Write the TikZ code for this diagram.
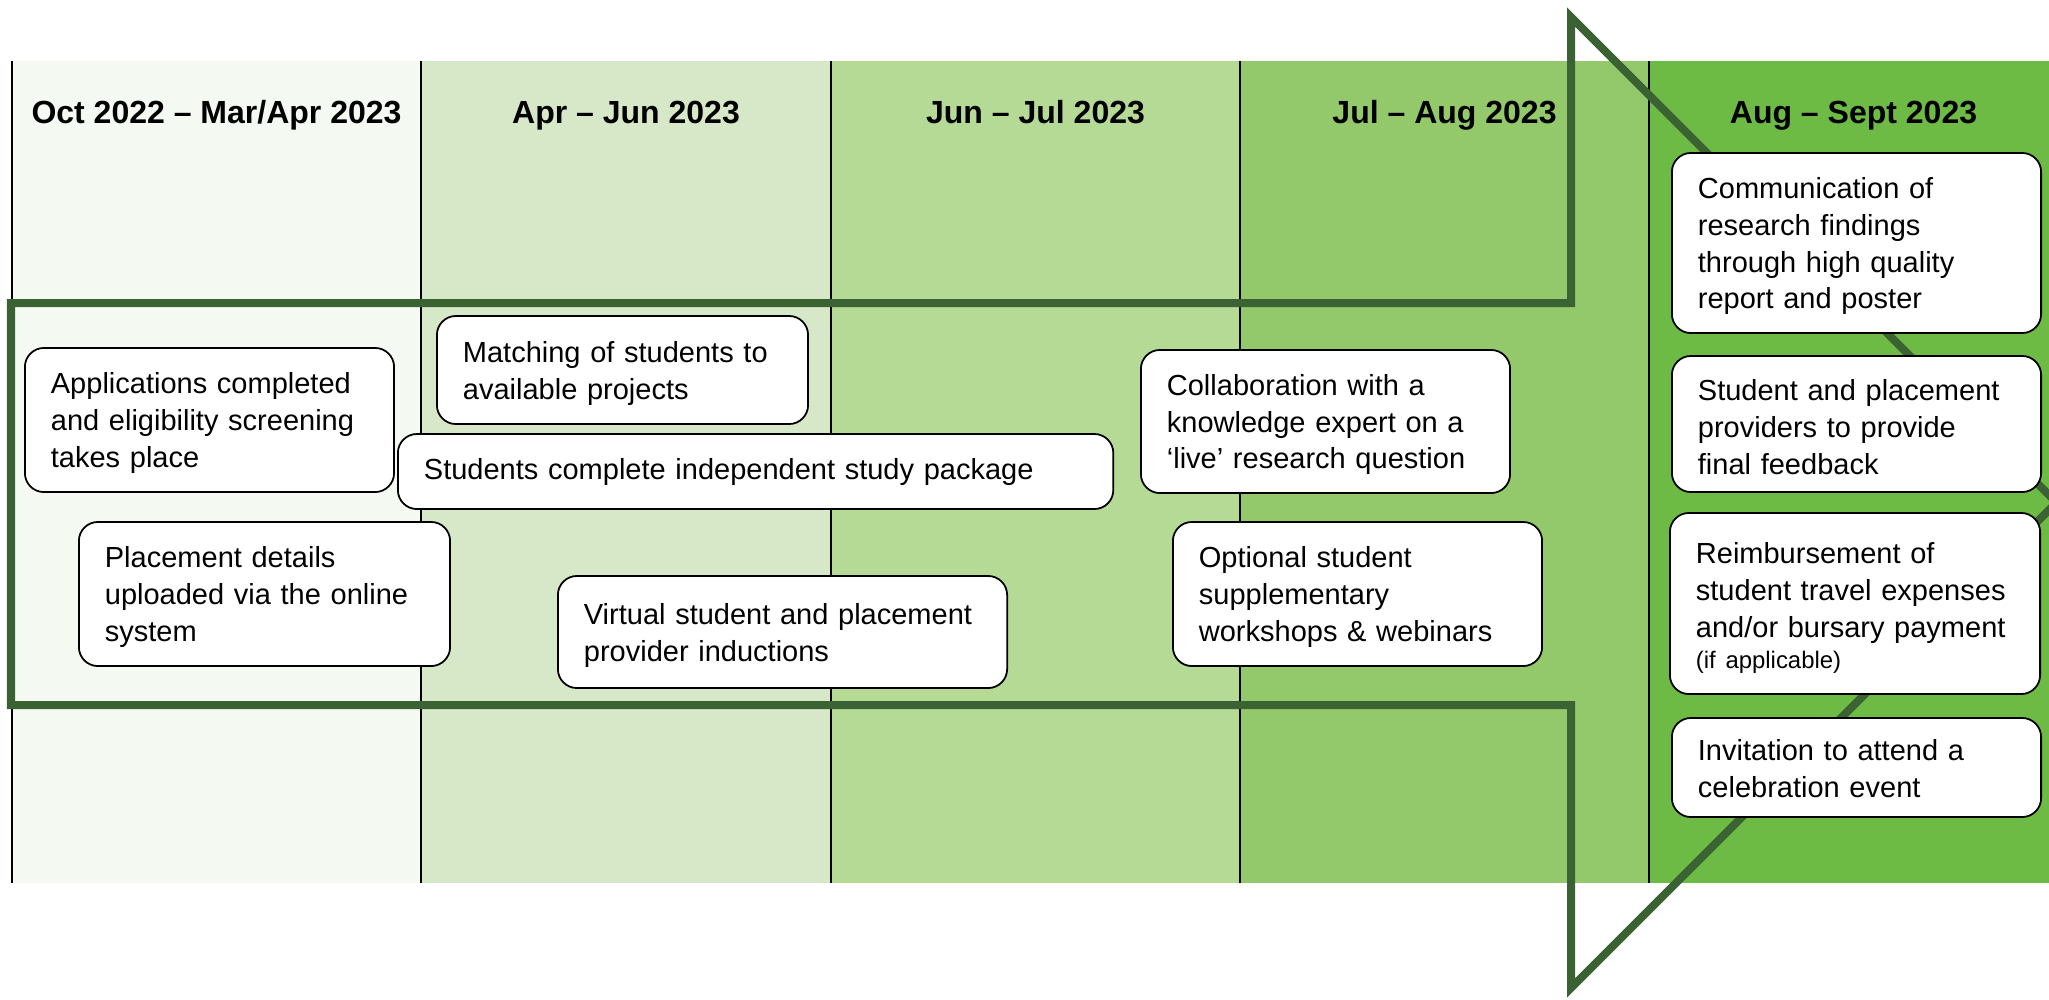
\documentclass[tikz,border=0pt]{standalone}
\usepackage{fontspec}
\setmainfont{Liberation Sans}
\usepackage{tikz}

\definecolor{phaseA}{HTML}{F4F9F1}
\definecolor{phaseB}{HTML}{D7E8C8}
\definecolor{phaseC}{HTML}{B4DA96}
\definecolor{phaseD}{HTML}{93C96A}
\definecolor{phaseE}{HTML}{6DBA45}
\definecolor{arrowgreen}{RGB}{58,98,50}
\newcommand{\cardfont}{\fontsize{8.25}{10.5}\selectfont}
\newcommand{\headfont}{\fontsize{9.1}{11}\selectfont\bfseries}

\begin{document}
\begin{tikzpicture}[x=0.01cm,y=-0.01cm,
    card/.style={draw=black, line width=0.5pt, fill=white, rounded corners=0.19cm,
                 anchor=west, align=left, inner xsep=0.26cm, inner ysep=0pt,
                 text height=7.7pt, font=\cardfont},
    head/.style={anchor=base, font=\headfont},
    divider/.style={line width=0.5pt},
    outline/.style={draw=arrowgreen, line width=0.08cm, line join=miter}]
\clip (0,0) rectangle (2049,999);

\fill[phaseA] (12,61) rectangle (421,883);
\fill[phaseB] (421,61) rectangle (831,883);
\fill[phaseC] (831,61) rectangle (1240,883);
\fill[phaseD] (1240,61) rectangle (1649,883);
\fill[phaseE] (1649,61) rectangle (2058,883);
\draw[divider] (12,61) -- (12,883)
               (421,61) -- (421,883)
               (831,61) -- (831,883)
               (1240,61) -- (1240,883)
               (1649,61) -- (1649,883);

\node[head] (h1) at (216.5,123) {Oct 2022 -- Mar/Apr 2023};
\node[head] (h2) at (626,123) {Apr -- Jun 2023};
\node[head] (h3) at (1035.5,123) {Jun -- Jul 2023};
\node[head] (h4) at (1444.5,123) {Jul -- Aug 2023};
\node[head] (h5) at (1853.5,123) {Aug -- Sept 2023};

\draw[outline] (11,303) -- (1571,303) -- (1571,17) -- (2056.5,502.5)
               -- (1571,988) -- (1571,705) -- (11,705) -- cycle;

\node[card, minimum height=1.44cm, text width=3.17cm] (apply) at (24,420)
     {Applications completed\\and eligibility screening\\takes place};
\node[card, minimum height=1.08cm, text width=3.19cm] (match) at (436,370)
     {Matching of students to\\available projects};
\node[card, minimum height=0.75cm, text width=6.63cm, text height=6.5pt] (study) at (397,471.5)
     {Students complete independent study package};
\node[card, minimum height=1.44cm, text width=3.19cm] (place) at (78,594)
     {Placement details\\uploaded via the online\\system};
\node[card, minimum height=1.12cm, text width=3.97cm] (induct) at (557,632)
     {Virtual student and placement\\provider inductions};
\node[card, minimum height=1.43cm, text width=3.17cm] (collab) at (1140,421.5)
     {Collaboration with a\\knowledge expert on a\\`live' research question};
\node[card, minimum height=1.44cm, text width=3.17cm] (optional) at (1172,594)
     {Optional student\\supplementary\\workshops \& webinars};
\node[card, minimum height=1.80cm, text width=3.17cm] (report) at (1671,243)
     {Communication of\\research findings\\through high quality\\report and poster};
\node[card, minimum height=1.36cm, text width=3.17cm] (feedback) at (1671,424)
     {Student and placement\\providers to provide\\final feedback};
\node[card, minimum height=1.81cm, text width=3.18cm, text height=8.5pt] (expenses) at (1669,603.5)
     {Reimbursement of\\student travel expenses\\and/or bursary payment\\[-1.5pt]{\fontsize{6.8}{8}\selectfont (if applicable)}};
\node[card, minimum height=0.99cm, text width=3.17cm, text height=6.8pt] (invite) at (1671,767.5)
     {Invitation to attend a\\celebration event};
\end{tikzpicture}
\end{document}
